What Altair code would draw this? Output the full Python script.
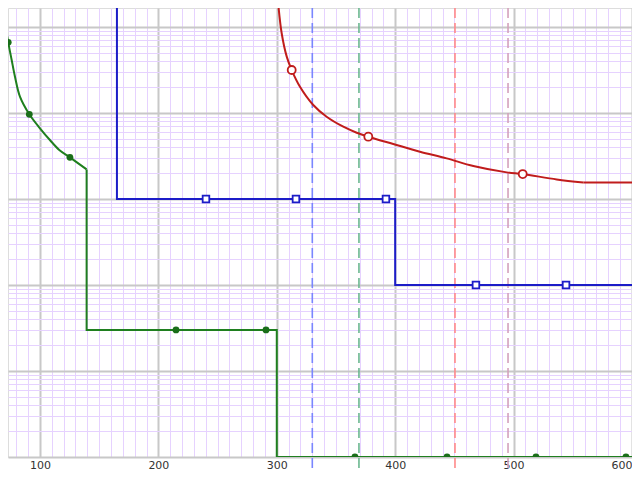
import altair as alt
import pandas as pd

# ---- grid / tick values ----
x_grid = list(range(70, 611, 10))
y_grid = [m * 10.0 ** k for k in range(-2, 4) for m in range(1, 10)]

# ---- green curve (filled circles) ----
green_curve_x = [70.4, 71.9, 73.2, 76.1, 78.9, 83.1, 91.0, 100.0, 108.4, 116.3, 125.3, 139.4]
green_curve_t = [2000, 851, 663, 413, 264, 155, 96.6, 66.4, 48.5, 37.2, 30.5, 22.1]
green_step_x = [139.4, 139.4, 300.0, 300.0, 620.0]
green_step_t = [22.1, 0.3, 0.3, 0.01, 0.01]
green_mx = [73.2, 91.0, 125.3, 214.9, 290.9, 366.0, 443.8, 518.9, 594.9]
green_mt = [663, 96.6, 30.5, 0.3, 0.3, 0.01, 0.01, 0.01, 0.01]

# ---- blue curve (open squares) ----
blue_x = [165.0, 165.0, 400.0, 400.0, 620.0]
blue_t = [3000, 10, 10, 1, 1]
blue_mx = [240.2, 316.2, 392.2, 468.2, 544.3]
blue_mt = [10, 10, 10, 1, 1]

# ---- red curve (open circles) ----
red_curve_x = [301.0, 304.1, 308.4, 312.6, 319.6, 330.8, 342.1, 356.2, 367.5, 377.3, 398.4, 420.9, 443.5, 466.0, 494.2, 507.7, 536.4, 558.9]
red_curve_t = [2000, 851, 452, 316, 202, 124, 90.6, 69.3, 59.0, 53.0, 43.6, 35.5, 29.7, 24.2, 20.4, 19.5, 16.9, 15.6]
red_flat_x = [558.9, 620.0]
red_flat_t = [15.6, 15.6]
red_mx = [312.6, 377.3, 507.7]
red_mt = [316, 53.0, 19.5]

# ---- dashed reference lines ----
dash_x = [330.0, 369.4, 450.5, 495.3]
dash_c = ["#7a86ff", "#6cb890", "#ff8a8a", "#d4a2bc"]

MAJOR_GRAY = "#c8c8c8"
MINOR = "#e6d2ff"

x_scale = alt.Scale(domain=[73.0, 600.0], nice=False, zero=False)
y_scale = alt.Scale(type="log", domain=[0.01, 1663], nice=False)

x_axis = alt.Axis(
    values=x_grid, grid=True, ticks=False, tickSize=0, domain=False, title=None,
    gridColor={"condition": {"test": "datum.value % 100 === 0", "value": MAJOR_GRAY}, "value": MINOR},
    gridWidth={"condition": {"test": "datum.value % 100 === 0", "value": 2}, "value": 1},
    labelExpr="datum.value % 100 === 0 ? format(datum.value, 'd') : ''",
    labelOverlap=False, labelPadding=2, labelFont="DejaVu Sans", labelFontSize=11,
    labelColor="#333333", labelFlush=True,
)
pow10 = "abs(log(datum.value)/LN10 - round(log(datum.value)/LN10)) < 0.001"
y_axis = alt.Axis(
    values=y_grid, grid=True, ticks=False, labels=False, domain=False, title=None,
    gridColor={"condition": {"test": pow10, "value": MAJOR_GRAY}, "value": MINOR},
    gridWidth={"condition": {"test": pow10, "value": 2}, "value": 1},
)

def line_df(xs, ts):
    return pd.DataFrame({"x": xs, "t": ts, "i": list(range(len(xs)))})

X = alt.X("x:Q", scale=x_scale, axis=x_axis)
Y = alt.Y("t:Q", scale=y_scale, axis=y_axis)

dash_df = pd.DataFrame({"x": dash_x, "c": dash_c})
dashes = alt.Chart(dash_df).mark_rule(strokeWidth=1.6, strokeDash=[10, 5]).encode(
    x=X, y=alt.value(0), y2=alt.value(480), color=alt.Color("c:N", scale=None)
)

def curve(xs, ts, color, interp="linear"):
    return alt.Chart(line_df(xs, ts)).mark_line(
        color=color, strokeWidth=2, clip=True, interpolate=interp
    ).encode(x=X, y=Y, order="i:Q")

GREEN = "#1f7f1f"
BLUE = "#1c1cc8"
RED = "#c01c1c"

green_c = curve(green_curve_x, green_curve_t, GREEN, "catmull-rom")
green_s = curve(green_step_x, green_step_t, GREEN)
blue = curve(blue_x, blue_t, BLUE)
red_c = curve(red_curve_x, red_curve_t, RED, "catmull-rom")
red_f = curve(red_flat_x, red_flat_t, RED)

green_m = alt.Chart(line_df(green_mx, green_mt)).mark_point(
    shape="circle", filled=True, size=46, color="#1a6e1a", opacity=1, clip=True
).encode(x=X, y=Y)
blue_m = alt.Chart(line_df(blue_mx, blue_mt)).mark_point(
    shape="square", filled=True, size=44, fill="white", stroke=BLUE, strokeWidth=1.8, opacity=1, clip=True
).encode(x=X, y=Y)
red_m = alt.Chart(line_df(red_mx, red_mt)).mark_point(
    shape="circle", filled=True, size=64, fill="white", stroke=RED, strokeWidth=1.8, opacity=1, clip=True
).encode(x=X, y=Y)

chart = alt.layer(dashes, green_c, green_s, blue, red_c, red_f, green_m, blue_m, red_m).properties(
    width=624, height=449,
    autosize=alt.AutoSizeParams(type="none"),
    padding={"left": 0, "top": 0, "right": 0, "bottom": 15},
).configure_view(stroke=None).configure(background="white")

chart.save("out.html", embed_options={"renderer": "svg", "actions": False})
